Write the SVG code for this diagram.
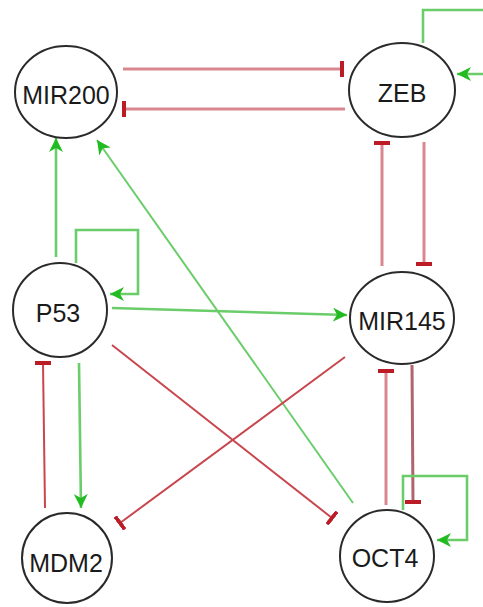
<svg xmlns="http://www.w3.org/2000/svg" width="483" height="607" viewBox="0 0 483 607">
<style>
.node ellipse{fill:#fff;stroke:#2a2a2a;stroke-width:2}
.node text{font-family:"Liberation Sans",Arial,sans-serif;font-size:25px;fill:#1a1a1a;text-anchor:middle}
.act{fill:none;stroke:#6acd6a;stroke-width:2.6;marker-end:url(#arrow)}
.inh{fill:none;stroke:#d9878e;stroke-width:3;marker-end:url(#bar)}
.thin{stroke-width:2}
.dk{stroke:#c8464e}
</style>
<defs>
<marker id="arrow" markerUnits="userSpaceOnUse" markerWidth="15" markerHeight="14" refX="14" refY="7" orient="auto">
<path d="M0,0 L14,7 L0,14 L4,7 z" fill="#22bb22"/>
</marker>
<marker id="bar" markerUnits="userSpaceOnUse" markerWidth="4" markerHeight="16" refX="2" refY="8" orient="auto">
<rect x="0" y="0" width="4" height="16" fill="#bb1c25"/>
</marker>
</defs>
<rect width="483" height="607" fill="#fff"/>
<g id="connectors">
<path class="inh" d="M123,69 H342"/>
<path class="inh" d="M345,109 H124"/>
<path class="act" d="M423,43 V10 H490 V74 H457"/>
<path class="inh" d="M382,266 V143"/>
<path class="inh" d="M424,142 V264"/>
<path class="act" d="M56,257 V138"/>
<path class="act thin" d="M353,503 L97,140"/>
<path class="act" d="M76,263 V230 H138 V294 H110"/>
<path class="act" d="M112,308 L347,315"/>
<path class="inh thin dk" d="M112,345 L332,518"/>
<path class="inh thin dk" d="M345,357 L120,523"/>
<path class="inh thin dk" d="M45,508 L43,363"/>
<path class="act" d="M79,363 L81,508"/>
<path class="inh" d="M386,505 V371"/>
<path class="inh" style="stroke:#b0646b" d="M412,365 L413,502"/>
<path class="act" d="M403,510 V476 H467 V540 H437"/>
</g>
<g id="MIR200" class="node"><ellipse cx="66" cy="92" rx="51" ry="46"/><text x="66" y="104">MIR200</text></g>
<g id="ZEB" class="node"><ellipse cx="402" cy="90" rx="53" ry="47"/><text x="402" y="102">ZEB</text></g>
<g id="P53" class="node"><ellipse cx="60" cy="310" rx="47" ry="47"/><text x="58" y="322">P53</text></g>
<g id="MIR145" class="node"><ellipse cx="402" cy="318" rx="52" ry="46"/><text x="402" y="330">MIR145</text></g>
<g id="MDM2" class="node"><ellipse cx="67" cy="558" rx="45" ry="45"/><text x="66" y="572">MDM2</text></g>
<g id="OCT4" class="node"><ellipse cx="387" cy="556" rx="47" ry="46"/><text x="385" y="567">OCT4</text></g>
</svg>
